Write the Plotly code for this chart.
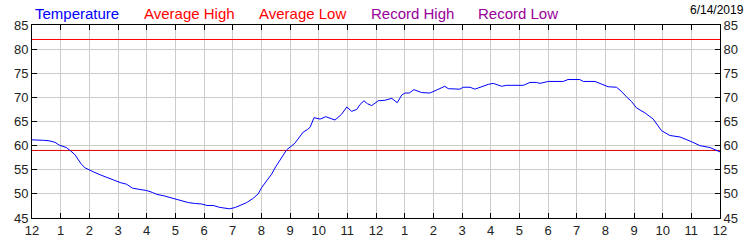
import plotly.graph_objects as go

# Hours since midnight and temperature (°F)
hours = [0.0, 0.2, 0.4, 0.6, 0.8, 0.95, 1.1, 1.2, 1.35, 1.5, 1.6, 1.73, 1.85, 2.0, 2.2, 2.4,
         2.66, 2.9, 3.1, 3.3, 3.5, 3.77, 4.0, 4.2, 4.35, 4.6, 4.93, 5.2, 5.45, 5.7, 5.92,
         6.1, 6.32, 6.55, 6.79, 6.9, 7.1, 7.3, 7.49, 7.7, 7.89, 8.01, 8.15, 8.36, 8.5,
         8.65, 8.88, 9.17, 9.3, 9.46, 9.6, 9.7, 9.84, 10.05, 10.25, 10.4, 10.57, 10.8,
         10.98, 11.15, 11.33, 11.44, 11.58, 11.7, 11.85, 12.08, 12.31, 12.55, 12.74, 12.9,
         13.01, 13.16, 13.32, 13.59, 13.88, 14.11, 14.4, 14.52, 14.93, 15.04, 15.28, 15.45,
         15.63, 15.92, 16.09, 16.38, 16.56, 17.14, 17.37, 17.6, 17.72, 18.01, 18.53, 18.7,
         19.11, 19.23, 19.64, 19.87, 20.1, 20.39, 20.55, 20.74, 20.92, 21.09, 21.38, 21.67,
         21.96, 22.25, 22.6, 23.01, 23.3, 23.65, 24.0]
temps = [61.2, 61.2, 61.1, 61.0, 60.7, 60.1, 59.8, 59.6, 58.9, 58.1, 57.2, 56.1, 55.4, 54.9, 54.4, 53.9,
         53.3, 52.8, 52.3, 52.0, 51.2, 50.9, 50.7, 50.3, 49.9, 49.6, 49.1, 48.7, 48.2, 48.0, 47.9,
         47.6, 47.6, 47.2, 46.9, 46.9, 47.2, 47.7, 48.2, 49.0, 50.0, 51.3, 52.5, 54.1, 55.6,
         57.1, 59.1, 60.5, 61.5, 62.8, 63.3, 63.8, 65.8, 65.5, 66.0, 65.6, 65.3, 66.5,
         68.0, 67.1, 67.5, 68.5, 69.3, 68.7, 68.3, 69.3, 69.4, 69.8, 68.9, 70.5,
         70.9, 70.9, 71.6, 71.0, 70.9, 71.5, 72.3, 71.8, 71.7, 72.1, 72.1, 71.7,
         72.1, 72.7, 72.9, 72.3, 72.5, 72.5, 73.1, 73.1, 72.9, 73.3, 73.3, 73.7,
         73.7, 73.3, 73.3, 72.7, 72.2, 72.1, 71.3, 70.1, 69.1, 67.8, 66.8, 65.5,
         63.1, 62.1, 61.8, 60.8, 60.0, 59.6, 58.7]

avg_high = 82
avg_low = 59
day_span = [0, 24]

x_tickvals = list(range(0, 25))
x_ticktext = ["12", "1", "2", "3", "4", "5", "6", "7", "8", "9", "10", "11",
              "12", "1", "2", "3", "4", "5", "6", "7", "8", "9", "10", "11", "12"]
y_range = [45, 85]

legend_names = ["Temperature", "Average High", "Average Low", "Record High", "Record Low"]
legend_colors = ["#0000FF", "#FF0000", "#FF0000", "#990099", "#990099"]
legend_x = [33, 142, 257, 369, 476]
date_label = "6/14/2019"

font_family = "Liberation Sans, Arial, sans-serif"

fig = go.Figure()
fig.add_trace(go.Scatter(x=day_span, y=[avg_high, avg_high], mode="lines",
                         line=dict(color="#FF0000", width=1), hoverinfo="skip"))
fig.add_trace(go.Scatter(x=day_span, y=[avg_low, avg_low], mode="lines",
                         line=dict(color="#DD0000", width=1), hoverinfo="skip"))
fig.add_trace(go.Scatter(x=hours, y=temps, mode="lines",
                         line=dict(color="#0000FF", width=1)))
fig.add_trace(go.Scatter(x=day_span, y=[avg_low, avg_low], mode="lines",
                         line=dict(width=0), opacity=0, yaxis="y2", hoverinfo="skip"))

axis_common = dict(showline=True, linecolor="black", linewidth=1,
                   ticks="inside", ticklen=5, tickcolor="black", tickwidth=1,
                   tickfont=dict(family=font_family, size=13, color="#222222"),
                   zeroline=False)

fig.update_layout(
    width=750, height=250,
    margin=dict(l=32, r=30, t=25, b=24),
    paper_bgcolor="white", plot_bgcolor="white",
    showlegend=False,
    xaxis=dict(range=day_span, tickmode="array", tickvals=x_tickvals, ticktext=x_ticktext,
               showgrid=True, gridcolor="#CCCCCC", gridwidth=1, mirror="ticks",
               **axis_common),
    yaxis=dict(range=y_range, dtick=5, tick0=45, showgrid=True, gridcolor="#CCCCCC",
               gridwidth=1, mirror="ticks", **axis_common),
    yaxis2=dict(range=y_range, dtick=5, tick0=45, overlaying="y", side="right",
                showgrid=False, **axis_common),
)

plot_w = 750 - 32 - 30
plot_h = 250 - 25 - 24

for name, color, xpos in zip(legend_names, legend_colors, legend_x):
    fig.add_annotation(x=(xpos - 32) / plot_w, y=(250 - 24 - 13) / plot_h,
                       xref="paper", yref="paper", text=name,
                       showarrow=False, xanchor="left", yanchor="middle",
                       font=dict(family=font_family, size=15, color=color))

fig.add_annotation(x=(746 - 32) / plot_w, y=(250 - 24 - 9) / plot_h,
                   xref="paper", yref="paper", text=date_label, showarrow=False,
                   xanchor="right", yanchor="middle",
                   font=dict(family=font_family, size=12, color="black"))

fig.write_html("out.html")
